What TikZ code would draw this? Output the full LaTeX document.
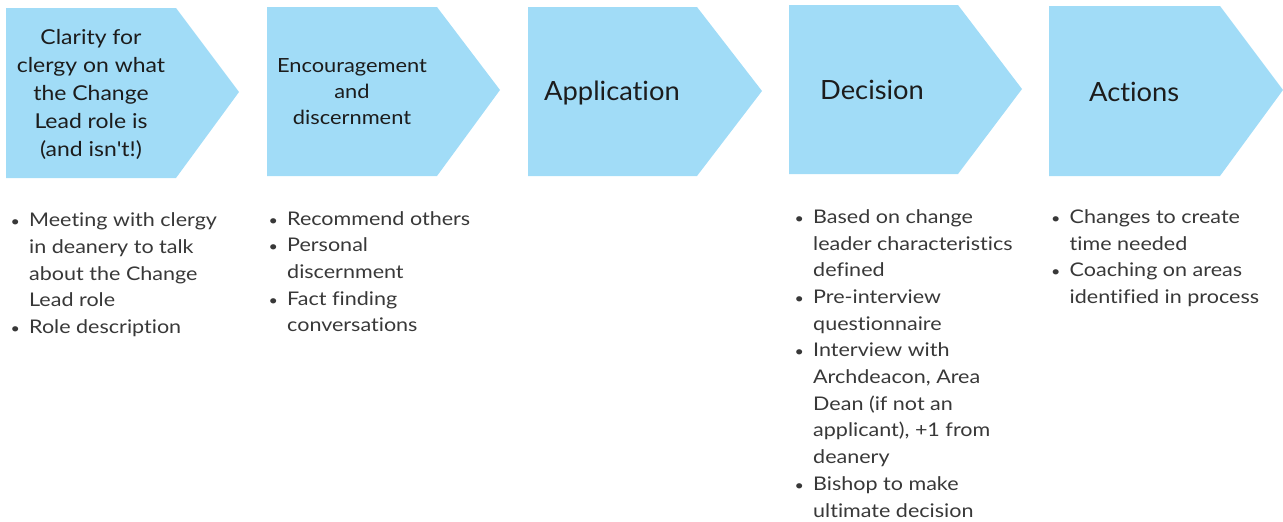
\documentclass[tikz,border=0pt]{standalone}
\usepackage{fontspec}
\setmainfont[Ligatures=NoCommon]{Lato}
\newfontfamily\widefont[FakeStretch=1.12,Ligatures=NoCommon]{Lato}
\newfontfamily\bulletfont[FakeStretch=1.145,Ligatures=NoCommon]{Lato}
\definecolor{arrowblue}{HTML}{A1DCF7}
\definecolor{titletxt}{HTML}{1C1C1C}
\definecolor{bodytxt}{HTML}{383838}
\newcommand{\stepchevron}[6]{% left, top, bottom, bodyright, tip x, tip y
  \fill[arrowblue] (#1,#2) -- (#4,#2) -- (#5,#6) -- (#4,#3) -- (#1,#3) -- cycle;}
\newcommand{\bul}{\makebox[28pt][c]{\scalebox{0.75}{\textbullet}}}
\newcommand{\nob}{\makebox[28pt]{}}
\begin{document}
\begin{tikzpicture}[x=1pt,y=-1pt,
  titlesm/.style={inner sep=0pt, anchor=base, text=titletxt},
  titlebig/.style={inner sep=0pt, anchor=base west, text=titletxt, font=\fontsize{26.5}{30}\selectfont\addfontfeature{FakeStretch=1.03}},
  bullets/.style={inner sep=0pt, anchor=base west, text=bodytxt, font=\bulletfont\fontsize{18.8}{26.7}\selectfont}]
\useasboundingbox (0,0) rectangle (1283,522);
% chevrons
\stepchevron{6}{8}{178}{176}{239}{92}
\stepchevron{267}{7}{176}{437}{500}{90}
\stepchevron{528}{7}{176}{697}{762}{91}
\stepchevron{789}{5}{174}{958}{1022}{89}
\stepchevron{1049}{6}{176}{1220}{1283}{90}
% titles
\node[titlesm, font=\widefont\fontsize{20.5}{28.1}\selectfont] (t1) at (91,44.3)
  {\begin{tabular}[t]{@{}c@{}}Clarity for\\clergy on what\\the Change\\Lead role is\\(and isn{\char"0027}t!)\end{tabular}};
\node[titlesm, font=\widefont\fontsize{19.5}{25.8}\selectfont] (t2) at (352,72.7)
  {\begin{tabular}[t]{@{}c@{}}Encouragement\\and\\discernment\end{tabular}};
\node[titlebig] (t3) at (544,100) {Application};
\node[titlebig] (t4) at (820,99) {Decision};
\node[titlebig] (t5) at (1089,101) {Actions};
% bullet lists
\node[bullets] (b1) at (1,226.7)
  {\begin{tabular}[t]{@{}l@{}l@{}}
   \bul & Meeting with clergy\\
   \nob & in deanery to talk\\
   \nob & about the Change\\
   \nob & Lead role\\
   \bul & Role description
   \end{tabular}};
\node[bullets] (b2) at (259,225)
  {\begin{tabular}[t]{@{}l@{}l@{}}
   \bul & Recommend others\\
   \bul & Personal\\
   \nob & discernment\\
   \bul & Fact finding\\
   \nob & conversations
   \end{tabular}};
\node[bullets] (b4) at (785,223.3)
  {\begin{tabular}[t]{@{}l@{}l@{}}
   \bul & Based on change\\
   \nob & leader characteristics\\
   \nob & defined\\
   \bul & Pre-interview\\
   \nob & questionnaire\\
   \bul & Interview with\\
   \nob & Archdeacon, Area\\
   \nob & Dean (if not an\\
   \nob & applicant), +1 from\\
   \nob & deanery\\
   \bul & Bishop to make\\
   \nob & ultimate decision
   \end{tabular}};
\node[bullets] (b5) at (1041.5,223.3)
  {\begin{tabular}[t]{@{}l@{}l@{}}
   \bul & Changes to create\\
   \nob & time needed\\
   \bul & Coaching on areas\\
   \nob & identified in process
   \end{tabular}};
\end{tikzpicture}
\end{document}
